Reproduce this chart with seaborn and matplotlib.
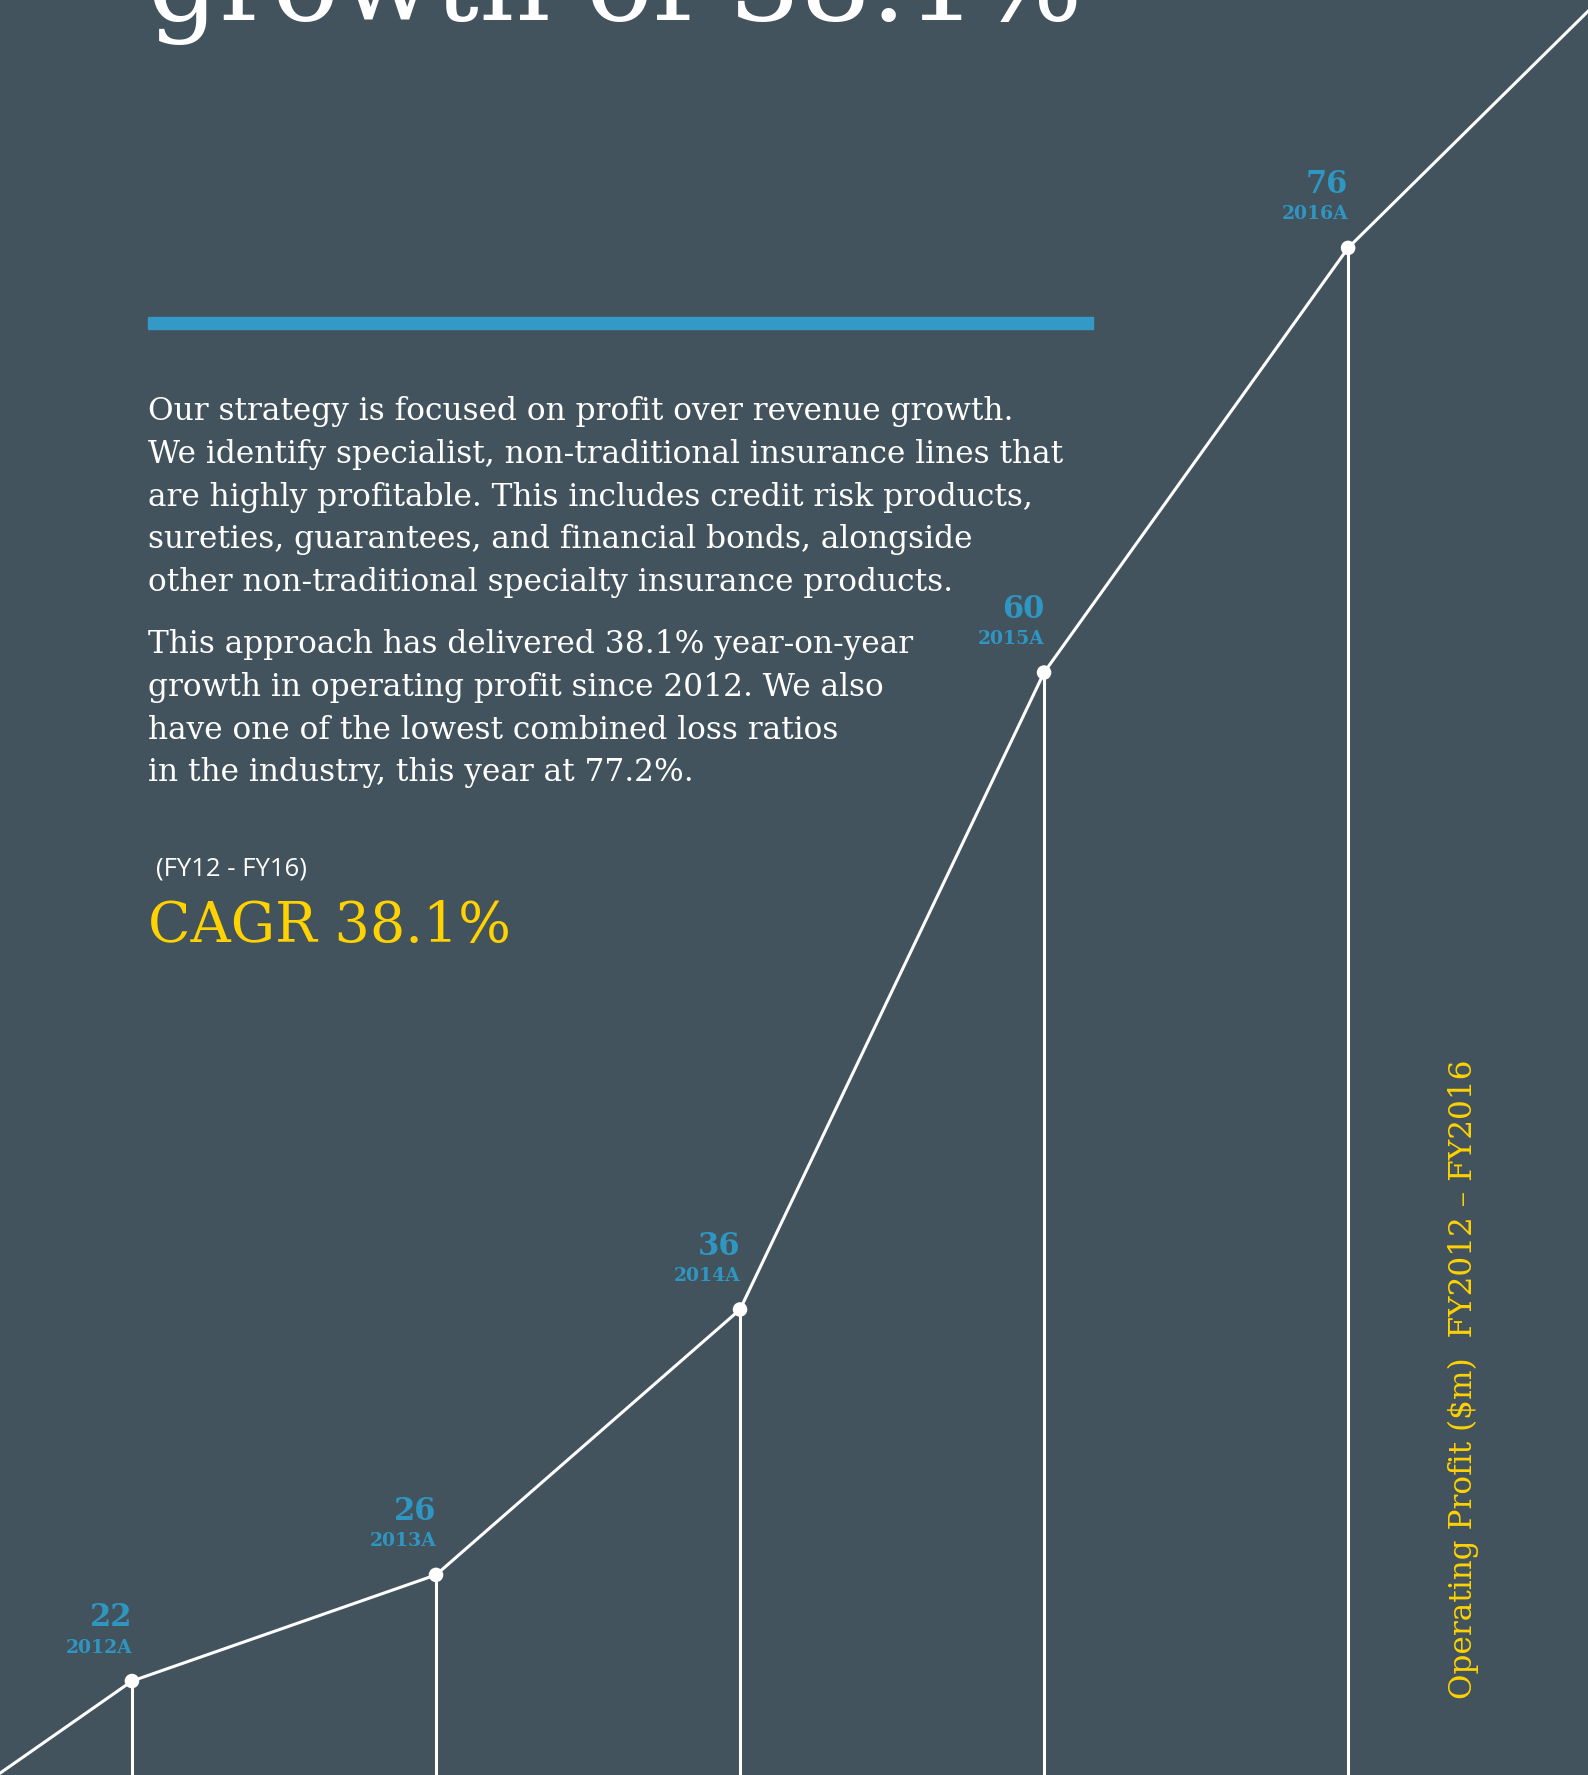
import numpy as np
import pandas as pd
import matplotlib
matplotlib.use('Agg')
import matplotlib.pyplot as plt
import seaborn as sns

#------------------------------------------------
years=['2012A', '2013A', '2014A', '2015A', '2016A']
profit=[22, 26, 36, 60, 76]
# line carries on past the visible points at both ends
lead_in=14
lead_out=87.3

title='growth of 38.1%'
para1=['Our strategy is focused on profit over revenue growth.',
       'We identify specialist, non-traditional insurance lines that',
       'are highly profitable. This includes credit risk products,',
       'sureties, guarantees, and financial bonds, alongside',
       'other non-traditional specialty insurance products.']
para2=['This approach has delivered 38.1% year-on-year',
       'growth in operating profit since 2012. We also',
       'have one of the lowest combined loss ratios',
       'in the industry, this year at 77.2%.']
period='(FY12 - FY16)'
cagr='CAGR 38.1%'
side_label='Operating Profit ($m)  FY2012 \u2013 FY2016'

bg='#42535d'
blue='#2f96c2'
yellow='#ffd200'
W, H=1588, 1775

##########################################################
sns.set_style('white')
plt.rcParams['font.family']=['DejaVu Serif', 'DejaVu Sans']

def fx(px): return px/W
def fy(py): return 1-py/H

fig=plt.figure(figsize=(W/100, H/100), dpi=100)
fig.patch.set_facecolor(bg)
ax=fig.add_axes([0, 0, 1, 1])
ax.set_facecolor(bg)

#line
idx=list(range(len(years)))
df_line=pd.DataFrame({'x': [-1]+idx+[len(years)], 'y': [lead_in]+profit+[lead_out]})
df_pts=pd.DataFrame({'x': idx, 'y': profit, 'year': years})

ymin=18.46
ax.vlines(df_pts['x'], ymin, df_pts['y'], color='white', lw=2.2, zorder=2)
sns.lineplot(data=df_line, x='x', y='y', ax=ax, color='white', lw=2.2, zorder=3)
sns.scatterplot(data=df_pts, x='x', y='y', ax=ax, color='white', s=110,
                edgecolor='none', zorder=4)

for x, y, yr in zip(df_pts['x'], df_pts['y'], df_pts['year']):
    ax.annotate(str(y), (x, y), xytext=(0, 39.5), textcoords='offset points',
                ha='right', va='baseline', fontsize=22, fontweight='bold', color=blue)
    ax.annotate(yr, (x, y), xytext=(0, 20.5), textcoords='offset points',
                ha='right', va='baseline', fontsize=13.5, fontweight='bold', color=blue)

ax.set_xlim(-0.434, 4.789)
ax.set_ylim(ymin, 85.34)
ax.axis('off')

#text block
fig.text(fx(148), fy(20), title, fontsize=80, color='white', va='baseline', ha='left')
fig.add_artist(plt.Rectangle((fx(148), fy(329)), fx(1093)-fx(148), 12/H,
                             color='#3399c6', transform=fig.transFigure))

for i, s in enumerate(para1):
    fig.text(fx(148), fy(420+i*42.8), s, fontsize=22.5, color='white', va='baseline')
for i, s in enumerate(para2):
    fig.text(fx(148), fy(653+i*42.8), s, fontsize=22.5, color='white', va='baseline')

fig.text(fx(156), fy(875), period, fontsize=18.5, color='white', va='baseline',
         family=['Open Sans', 'DejaVu Sans'])
fig.text(fx(148), fy(942), cagr, fontsize=40, color=yellow, va='baseline')

fig.text(fx(1463), fy(1379), side_label, fontsize=22.4, color=yellow, rotation=90,
         ha='center', va='center')

plt.savefig('out.png', dpi=100, facecolor=bg)
plt.close()
